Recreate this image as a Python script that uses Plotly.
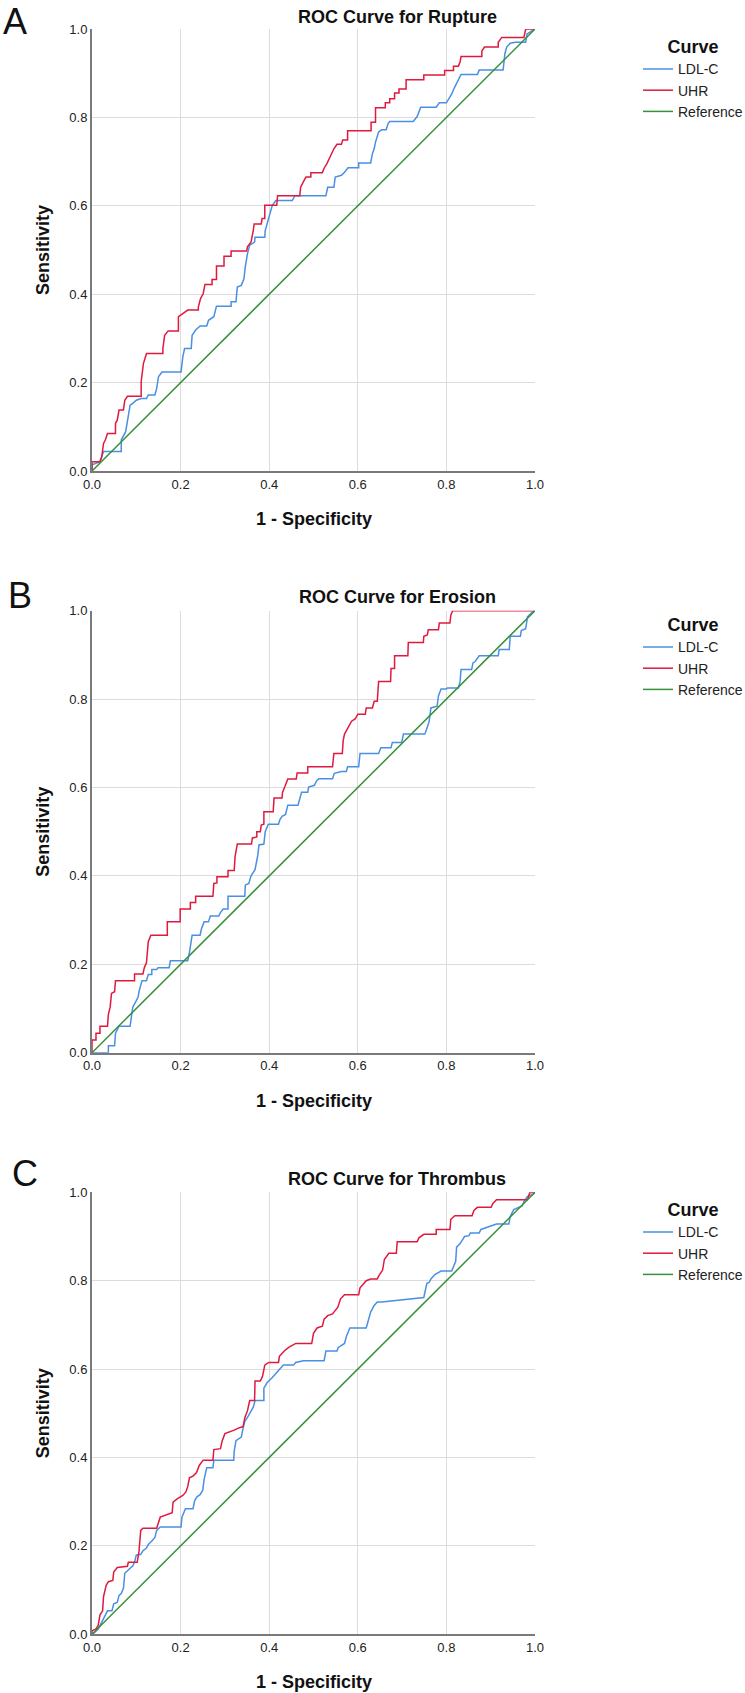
import plotly.graph_objects as go

# ---------------- data ----------------
panel_letters = ["A", "B", "C"]
panel_titles = ["ROC Curve for Rupture", "ROC Curve for Erosion", "ROC Curve for Thrombus"]
series_names = ["LDL-C", "UHR", "Reference"]
tick_values = [0.0, 0.2, 0.4, 0.6, 0.8, 1.0]

# Panel A - Rupture
a_ldl_fpr = [0, 0, 0.018, 0.026, 0.066, 0.066, 0.076, 0.082, 0.086, 0.092, 0.100, 0.111, 0.123, 0.127, 0.142, 0.146, 0.150, 0.158, 0.201, 0.205, 0.209, 0.224, 0.226, 0.234, 0.244, 0.259, 0.263, 0.275, 0.281, 0.314, 0.314, 0.325, 0.328, 0.337, 0.343, 0.346, 0.351, 0.356, 0.367, 0.368, 0.390, 0.391, 0.399, 0.407, 0.415, 0.452, 0.458, 0.528, 0.532, 0.546, 0.549, 0.563, 0.570, 0.578, 0.602, 0.602, 0.629, 0.633, 0.637, 0.640, 0.647, 0.654, 0.664, 0.668, 0.672, 0.725, 0.734, 0.742, 0.777, 0.784, 0.800, 0.812, 0.818, 0.826, 0.833, 0.870, 0.874, 0.928, 0.932, 0.936, 0.944, 0.956, 0.979, 0.982, 0.995, 1]
a_ldl_tpr = [0, 0.014, 0.021, 0.044, 0.044, 0.070, 0.089, 0.123, 0.149, 0.153, 0.160, 0.164, 0.164, 0.172, 0.172, 0.187, 0.213, 0.224, 0.224, 0.258, 0.277, 0.277, 0.307, 0.319, 0.328, 0.328, 0.341, 0.349, 0.373, 0.373, 0.383, 0.383, 0.416, 0.420, 0.435, 0.462, 0.492, 0.511, 0.518, 0.529, 0.529, 0.544, 0.575, 0.601, 0.612, 0.612, 0.623, 0.623, 0.642, 0.642, 0.665, 0.669, 0.676, 0.686, 0.686, 0.697, 0.697, 0.718, 0.729, 0.744, 0.767, 0.772, 0.772, 0.785, 0.791, 0.791, 0.802, 0.823, 0.823, 0.833, 0.833, 0.853, 0.867, 0.883, 0.897, 0.897, 0.907, 0.907, 0.944, 0.959, 0.968, 0.970, 0.970, 0.989, 0.996, 1]
a_uhr_fpr = [0, 0, 0.018, 0.022, 0.026, 0.030, 0.035, 0.053, 0.053, 0.057, 0.061, 0.071, 0.074, 0.080, 0.111, 0.111, 0.116, 0.123, 0.160, 0.160, 0.164, 0.172, 0.195, 0.195, 0.205, 0.216, 0.240, 0.240, 0.245, 0.251, 0.255, 0.271, 0.271, 0.281, 0.281, 0.298, 0.298, 0.314, 0.314, 0.349, 0.351, 0.359, 0.364, 0.366, 0.382, 0.384, 0.390, 0.390, 0.417, 0.419, 0.469, 0.471, 0.477, 0.483, 0.494, 0.494, 0.520, 0.524, 0.530, 0.535, 0.539, 0.546, 0.553, 0.563, 0.566, 0.577, 0.577, 0.630, 0.630, 0.640, 0.640, 0.662, 0.662, 0.672, 0.672, 0.683, 0.683, 0.693, 0.693, 0.709, 0.709, 0.749, 0.749, 0.796, 0.796, 0.816, 0.816, 0.827, 0.831, 0.833, 0.880, 0.880, 0.886, 0.917, 0.917, 0.925, 0.975, 0.979, 1]
a_uhr_tpr = [0, 0.021, 0.021, 0.032, 0.0625, 0.070, 0.085, 0.085, 0.108, 0.115, 0.138, 0.138, 0.160, 0.169, 0.169, 0.202, 0.243, 0.266, 0.266, 0.277, 0.307, 0.317, 0.317, 0.349, 0.356, 0.364, 0.364, 0.371, 0.390, 0.401, 0.422, 0.422, 0.433, 0.433, 0.464, 0.464, 0.486, 0.486, 0.498, 0.498, 0.507, 0.518, 0.544, 0.559, 0.559, 0.571, 0.571, 0.601, 0.601, 0.623, 0.623, 0.642, 0.654, 0.665, 0.665, 0.675, 0.675, 0.685, 0.695, 0.706, 0.716, 0.729, 0.739, 0.739, 0.749, 0.749, 0.770, 0.770, 0.789, 0.789, 0.822, 0.822, 0.833, 0.833, 0.842, 0.842, 0.855, 0.855, 0.864, 0.864, 0.885, 0.885, 0.896, 0.896, 0.906, 0.906, 0.916, 0.916, 0.926, 0.938, 0.938, 0.950, 0.959, 0.959, 0.970, 0.981, 0.981, 1, 1]

# Panel B - Erosion
b_ldl_fpr = [0, 0.037, 0.037, 0.051, 0.053, 0.061, 0.086, 0.089, 0.092, 0.100, 0.104, 0.107, 0.113, 0.123, 0.127, 0.135, 0.135, 0.146, 0.149, 0.174, 0.177, 0.216, 0.220, 0.226, 0.244, 0.247, 0.253, 0.263, 0.267, 0.286, 0.290, 0.296, 0.307, 0.307, 0.345, 0.346, 0.354, 0.359, 0.368, 0.374, 0.377, 0.388, 0.391, 0.398, 0.421, 0.424, 0.429, 0.437, 0.442, 0.465, 0.469, 0.473, 0.487, 0.489, 0.502, 0.507, 0.512, 0.543, 0.547, 0.563, 0.574, 0.577, 0.602, 0.605, 0.647, 0.652, 0.675, 0.678, 0.699, 0.703, 0.751, 0.753, 0.757, 0.761, 0.765, 0.779, 0.782, 0.788, 0.800, 0.802, 0.827, 0.831, 0.833, 0.857, 0.860, 0.865, 0.874, 0.917, 0.919, 0.942, 0.944, 0.967, 0.969, 0.979, 0.983, 0.995, 1]
b_ldl_tpr = [0, 0, 0.016, 0.016, 0.044, 0.060, 0.060, 0.087, 0.103, 0.118, 0.126, 0.142, 0.163, 0.163, 0.177, 0.177, 0.188, 0.188, 0.192, 0.192, 0.208, 0.208, 0.227, 0.266, 0.266, 0.280, 0.296, 0.296, 0.309, 0.309, 0.317, 0.325, 0.325, 0.354, 0.354, 0.379, 0.383, 0.400, 0.414, 0.445, 0.470, 0.472, 0.500, 0.517, 0.517, 0.527, 0.535, 0.539, 0.560, 0.560, 0.577, 0.589, 0.589, 0.601, 0.605, 0.615, 0.620, 0.620, 0.632, 0.636, 0.636, 0.647, 0.647, 0.677, 0.677, 0.690, 0.690, 0.702, 0.702, 0.721, 0.721, 0.725, 0.737, 0.749, 0.780, 0.784, 0.807, 0.823, 0.823, 0.825, 0.825, 0.840, 0.867, 0.867, 0.882, 0.885, 0.898, 0.898, 0.912, 0.912, 0.942, 0.942, 0.955, 0.959, 0.986, 0.998, 1]
b_uhr_fpr = [0, 0, 0.009, 0.009, 0.018, 0.018, 0.035, 0.037, 0.041, 0.044, 0.051, 0.053, 0.096, 0.096, 0.115, 0.118, 0.123, 0.127, 0.133, 0.170, 0.170, 0.199, 0.199, 0.222, 0.222, 0.234, 0.234, 0.273, 0.275, 0.282, 0.282, 0.307, 0.307, 0.321, 0.323, 0.328, 0.360, 0.362, 0.372, 0.372, 0.380, 0.382, 0.388, 0.388, 0.409, 0.411, 0.429, 0.430, 0.435, 0.442, 0.461, 0.463, 0.487, 0.487, 0.543, 0.546, 0.565, 0.567, 0.570, 0.578, 0.586, 0.594, 0.600, 0.617, 0.619, 0.633, 0.637, 0.644, 0.647, 0.674, 0.675, 0.683, 0.683, 0.713, 0.714, 0.748, 0.749, 0.757, 0.759, 0.782, 0.784, 0.808, 0.810, 0.814, 1]
b_uhr_tpr = [0, 0.029, 0.029, 0.044, 0.044, 0.060, 0.060, 0.087, 0.103, 0.134, 0.138, 0.163, 0.163, 0.178, 0.178, 0.192, 0.204, 0.251, 0.266, 0.266, 0.296, 0.296, 0.325, 0.325, 0.340, 0.340, 0.354, 0.354, 0.383, 0.384, 0.398, 0.398, 0.412, 0.412, 0.444, 0.472, 0.472, 0.486, 0.488, 0.500, 0.500, 0.515, 0.517, 0.545, 0.545, 0.576, 0.576, 0.589, 0.601, 0.619, 0.619, 0.633, 0.633, 0.647, 0.647, 0.677, 0.677, 0.706, 0.721, 0.737, 0.750, 0.755, 0.766, 0.766, 0.780, 0.780, 0.795, 0.795, 0.840, 0.840, 0.869, 0.869, 0.898, 0.898, 0.928, 0.928, 0.942, 0.945, 0.957, 0.957, 0.972, 0.972, 0.990, 1, 1]

# Panel C - Thrombus
c_ldl_fpr = [0, 0.006, 0.014, 0.022, 0.030, 0.035, 0.045, 0.049, 0.057, 0.061, 0.066, 0.071, 0.074, 0.084, 0.092, 0.096, 0.100, 0.110, 0.115, 0.123, 0.127, 0.135, 0.142, 0.146, 0.154, 0.201, 0.203, 0.211, 0.228, 0.232, 0.237, 0.244, 0.250, 0.253, 0.259, 0.273, 0.275, 0.320, 0.321, 0.325, 0.337, 0.341, 0.345, 0.353, 0.364, 0.368, 0.388, 0.388, 0.395, 0.407, 0.426, 0.432, 0.455, 0.460, 0.477, 0.524, 0.528, 0.553, 0.556, 0.570, 0.574, 0.582, 0.619, 0.623, 0.629, 0.637, 0.644, 0.654, 0.749, 0.751, 0.756, 0.761, 0.765, 0.774, 0.788, 0.812, 0.821, 0.823, 0.831, 0.841, 0.851, 0.854, 0.874, 0.878, 0.913, 0.941, 0.944, 0.952, 0.971, 0.975, 0.983, 0.995, 1]
c_ldl_tpr = [0, 0.004, 0.012, 0.028, 0.044, 0.053, 0.053, 0.069, 0.072, 0.088, 0.092, 0.104, 0.138, 0.147, 0.155, 0.163, 0.179, 0.181, 0.189, 0.195, 0.203, 0.211, 0.219, 0.235, 0.243, 0.243, 0.265, 0.284, 0.284, 0.303, 0.311, 0.316, 0.326, 0.350, 0.377, 0.377, 0.394, 0.394, 0.414, 0.438, 0.446, 0.466, 0.482, 0.494, 0.514, 0.529, 0.529, 0.557, 0.569, 0.581, 0.601, 0.609, 0.609, 0.615, 0.619, 0.619, 0.641, 0.641, 0.649, 0.658, 0.673, 0.693, 0.693, 0.709, 0.729, 0.744, 0.752, 0.752, 0.762, 0.772, 0.794, 0.796, 0.804, 0.814, 0.822, 0.822, 0.844, 0.876, 0.884, 0.900, 0.902, 0.908, 0.908, 0.916, 0.928, 0.928, 0.945, 0.961, 0.969, 0.979, 0.991, 0.995, 1]
c_uhr_fpr = [0, 0, 0.009, 0.014, 0.018, 0.024, 0.026, 0.032, 0.037, 0.047, 0.049, 0.057, 0.080, 0.082, 0.102, 0.106, 0.110, 0.115, 0.146, 0.150, 0.154, 0.181, 0.183, 0.193, 0.205, 0.212, 0.216, 0.220, 0.228, 0.236, 0.242, 0.251, 0.273, 0.275, 0.290, 0.294, 0.300, 0.321, 0.329, 0.341, 0.345, 0.351, 0.356, 0.367, 0.368, 0.380, 0.385, 0.390, 0.399, 0.421, 0.423, 0.434, 0.444, 0.460, 0.496, 0.500, 0.508, 0.520, 0.524, 0.532, 0.543, 0.555, 0.561, 0.570, 0.602, 0.605, 0.619, 0.629, 0.644, 0.648, 0.656, 0.660, 0.670, 0.687, 0.689, 0.734, 0.738, 0.749, 0.777, 0.777, 0.808, 0.810, 0.819, 0.858, 0.862, 0.870, 0.901, 0.905, 0.913, 0.983, 0.988, 1]
c_uhr_tpr = [0, 0.008, 0.012, 0.020, 0.044, 0.053, 0.085, 0.111, 0.119, 0.122, 0.141, 0.151, 0.154, 0.163, 0.163, 0.187, 0.235, 0.240, 0.240, 0.255, 0.265, 0.275, 0.299, 0.307, 0.314, 0.322, 0.334, 0.354, 0.358, 0.366, 0.382, 0.394, 0.394, 0.418, 0.420, 0.438, 0.454, 0.462, 0.466, 0.470, 0.490, 0.506, 0.529, 0.529, 0.573, 0.573, 0.584, 0.609, 0.615, 0.615, 0.629, 0.641, 0.649, 0.658, 0.658, 0.681, 0.693, 0.697, 0.713, 0.721, 0.725, 0.740, 0.759, 0.768, 0.768, 0.784, 0.800, 0.804, 0.804, 0.812, 0.824, 0.848, 0.862, 0.862, 0.888, 0.888, 0.897, 0.905, 0.905, 0.916, 0.916, 0.939, 0.947, 0.947, 0.959, 0.966, 0.966, 0.975, 0.983, 0.983, 0.999, 1]

reference_fpr = [0, 1]
reference_tpr = [0, 1]

panels = [
    (a_ldl_fpr, a_ldl_tpr, a_uhr_fpr, a_uhr_tpr),
    (b_ldl_fpr, b_ldl_tpr, b_uhr_fpr, b_uhr_tpr),
    (c_ldl_fpr, c_ldl_tpr, c_uhr_fpr, c_uhr_tpr),
]

# ---------------- styling / layout ----------------
W, H = 745, 1693
FONT = "Liberation Sans, Arial, Helvetica, sans-serif"
COL_LDL = "#4A8FE3"
COL_UHR = "#E0193F"
COL_REF = "#35913A"

def fx(px):
    return px / W

def fy(py):
    return 1 - py / H

plot_left, plot_right = 92, 535
plot_tops = [29, 610.7, 1192.3]
plot_bottoms = [471, 1052.7, 1634.3]
title_y = [17, 597, 1179]
letter_pos = [(14.5, 21.5), (19.5, 595.5), (24.5, 1173)]
legend_title_y = [46, 624, 1209]

fig = go.Figure()
legend_ids = ["legend", "legend2", "legend3"]

for i, (lf, lt, uf, ut) in enumerate(panels):
    xa = "x" if i == 0 else f"x{i+1}"
    ya = "y" if i == 0 else f"y{i+1}"
    for name, xs, ys, col in [(series_names[0], lf, lt, COL_LDL),
                              (series_names[1], uf, ut, COL_UHR),
                              (series_names[2], reference_fpr, reference_tpr, COL_REF)]:
        fig.add_trace(go.Scatter(x=xs, y=ys, mode="lines", name=name,
                                 line=dict(color=col, width=1.5),
                                 xaxis=xa, yaxis=ya, legend=legend_ids[i],
                                 hoverinfo="skip"))

axis_common = dict(range=[0, 1], tickvals=tick_values, tickformat=".1f",
                   showgrid=True, gridcolor="#dcdcdc", gridwidth=1,
                   showline=True, linecolor="#7a7a7a", linewidth=2,
                   zeroline=False, ticks="", fixedrange=True, automargin=False,
                   tickfont=dict(family=FONT, size=13, color="#222222"))

layout = dict(width=W, height=H, autosize=False,
              margin=dict(l=0, r=0, t=0, b=0, pad=0, autoexpand=False),
              paper_bgcolor="white", plot_bgcolor="white",
              font=dict(family=FONT, color="#111111"),
              showlegend=True)

annotations = []
for i in range(3):
    sx = "" if i == 0 else str(i + 1)
    layout[f"xaxis{sx}"] = dict(axis_common, domain=[fx(plot_left), fx(plot_right)],
                                anchor=f"y{sx}")
    layout[f"yaxis{sx}"] = dict(axis_common, domain=[fy(plot_bottoms[i]), fy(plot_tops[i])],
                                anchor=f"x{sx}")
    layout[legend_ids[i]] = dict(
        title=dict(text="<b>Curve</b>", font=dict(family=FONT, size=18, color="#111111"),
                   side="top center"),
        x=fx(638), xanchor="left", y=fy(legend_title_y[i] - 16), yanchor="top",
        font=dict(family=FONT, size=14, color="#222222"),
        bgcolor="rgba(0,0,0,0)", borderwidth=0, tracegroupgap=0, itemwidth=30)
    # panel title
    annotations.append(dict(text=f"<b>{panel_titles[i]}</b>", x=fx(397.5), y=fy(title_y[i]),
                            xref="paper", yref="paper", xanchor="center", yanchor="middle",
                            showarrow=False, font=dict(family=FONT, size=18, color="#111111")))
    # panel letter
    lx, ly = letter_pos[i]
    annotations.append(dict(text=panel_letters[i], x=fx(lx), y=fy(ly),
                            xref="paper", yref="paper", xanchor="center", yanchor="middle",
                            showarrow=False, font=dict(family=FONT, size=36, color="#111111")))
    # axis titles
    annotations.append(dict(text="<b>Sensitivity</b>", x=fx(43), y=fy((plot_tops[i] + plot_bottoms[i]) / 2),
                            xref="paper", yref="paper", xanchor="center", yanchor="middle",
                            textangle=-90, showarrow=False,
                            font=dict(family=FONT, size=18, color="#111111")))
    annotations.append(dict(text="<b>1 - Specificity</b>", x=fx((plot_left + plot_right) / 2),
                            y=fy(plot_bottoms[i] + 48),
                            xref="paper", yref="paper", xanchor="center", yanchor="middle",
                            showarrow=False, font=dict(family=FONT, size=18, color="#111111")))

layout["annotations"] = annotations
fig.update_layout(**layout)

fig.write_html("out.html",
               config={"displayModeBar": False, "staticPlot": False},
               post_script="document.body.style.margin='0px';document.body.style.padding='0px';")
